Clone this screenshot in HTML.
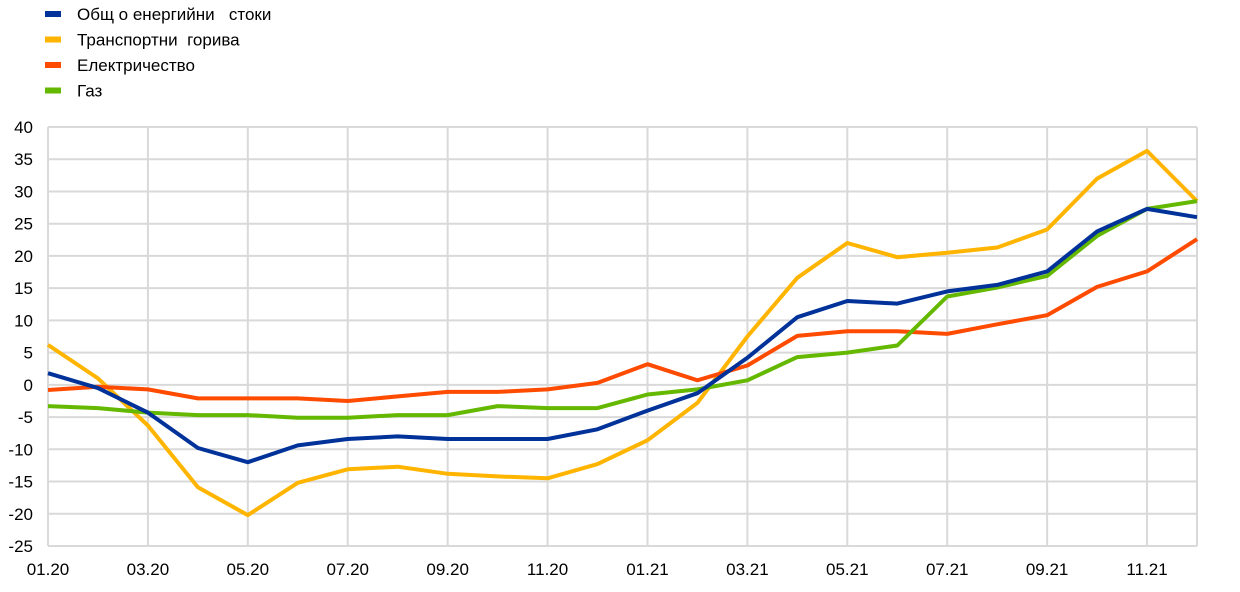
<!DOCTYPE html>
<html><head><meta charset="utf-8"><style>
body{margin:0;background:#fff;width:1240px;height:587px;overflow:hidden;font-family:"Liberation Sans",sans-serif}
svg text{font-family:"Liberation Sans",sans-serif;fill:#000}
</style></head><body>
<svg id="chart" width="1240" height="587" xmlns="http://www.w3.org/2000/svg">
<g id="grid"></g>
<g id="axes"></g>
<g id="lines"></g>
<g id="legend"></g>
</svg>
<script>
const categories = ["01.20","02.20","03.20","04.20","05.20","06.20","07.20","08.20","09.20","10.20","11.20","12.20","01.21","02.21","03.21","04.21","05.21","06.21","07.21","08.21","09.21","10.21","11.21","12.21"];
const totalEnergy = [1.8,-0.5,-4.3,-9.8,-12,-9.4,-8.4,-8,-8.4,-8.4,-8.4,-6.9,-4,-1.3,4.2,10.5,13,12.6,14.5,15.5,17.6,23.8,27.3,26];
const transportFuels = [6.2,1,-6.3,-15.9,-20.2,-15.2,-13.1,-12.7,-13.8,-14.2,-14.5,-12.3,-8.6,-2.8,7.5,16.6,22,19.8,20.5,21.3,24.1,32,36.3,28.5];
const electricity = [-0.8,-0.3,-0.7,-2.1,-2.1,-2.1,-2.5,-1.8,-1.1,-1.1,-0.7,0.3,3.2,0.7,3,7.6,8.3,8.3,7.9,9.4,10.8,15.2,17.6,22.6];
const gas = [-3.3,-3.6,-4.3,-4.7,-4.7,-5.1,-5.1,-4.7,-4.7,-3.3,-3.6,-3.6,-1.5,-0.7,0.7,4.3,5,6.1,13.7,15.1,16.9,23.1,27.3,28.5];
const yTicks = [40,35,30,25,20,15,10,5,0,-5,-10,-15,-20,-25];
const seriesNames = ["Общ о енергийни   стоки","Транспортни  горива","Електричество","Газ"];
const seriesColors = ["#003299","#ffb400","#ff4b00","#65b800"];

const X0=48,X1=1197,Y40=127,YM25=546;
const x=i=>X0+(X1-X0)*i/(categories.length-1);
const y=v=>Y40+(40-v)*(YM25-Y40)/65;
const NS="http://www.w3.org/2000/svg";
function mk(tag,attrs,parent){const e=document.createElementNS(NS,tag);for(const k in attrs)e.setAttribute(k,attrs[k]);parent.appendChild(e);return e;}
const grid=document.getElementById('grid'),axes=document.getElementById('axes'),lines=document.getElementById('lines'),legend=document.getElementById('legend');

yTicks.forEach(v=>{
  const l=mk('line',{x1:X0,x2:X1,y1:y(v),y2:y(v),stroke:'#d9d9d9','stroke-width':2},grid);
  
  
  const t=mk('text',{x:33,y:y(v)+6,'text-anchor':'end','font-size':17},axes);
  t.textContent=v;
  
  
});
categories.forEach((c,i)=>{
  if(i%2!==0)return;
  const l=mk('line',{x1:x(i),x2:x(i),y1:Y40,y2:YM25,stroke:'#d9d9d9','stroke-width':2},grid);
  
  
  const t=mk('text',{x:x(i),y:575,'text-anchor':'middle','font-size':17},axes);
  t.textContent=c;
  
  
});
const last=mk('line',{x1:X1,x2:X1,y1:Y40,y2:YM25,stroke:'#d9d9d9','stroke-width':2},grid);



const allSeries=[totalEnergy,transportFuels,electricity,gas];
const order=[1,2,3,0];
order.forEach(s=>{
  const pts=allSeries[s].map((v,i)=>x(i).toFixed(1)+','+y(v).toFixed(1)).join(' ');
  const p=mk('polyline',{points:pts,fill:'none',stroke:seriesColors[s],'stroke-width':4,'stroke-linejoin':'round'},lines);
  
  
});
seriesNames.forEach((n,i)=>{
  const cy=14+i*25.5;
  const r=mk('rect',{x:45,y:cy-3,width:16,height:6,fill:seriesColors[i]},legend);
  
  
  const t=mk('text',{x:77,y:cy+6,'font-size':17,'xml:space':'preserve'},legend);
  t.setAttribute('style','white-space:pre');
  t.textContent=n;
  
  
});
</script>
</body></html>
